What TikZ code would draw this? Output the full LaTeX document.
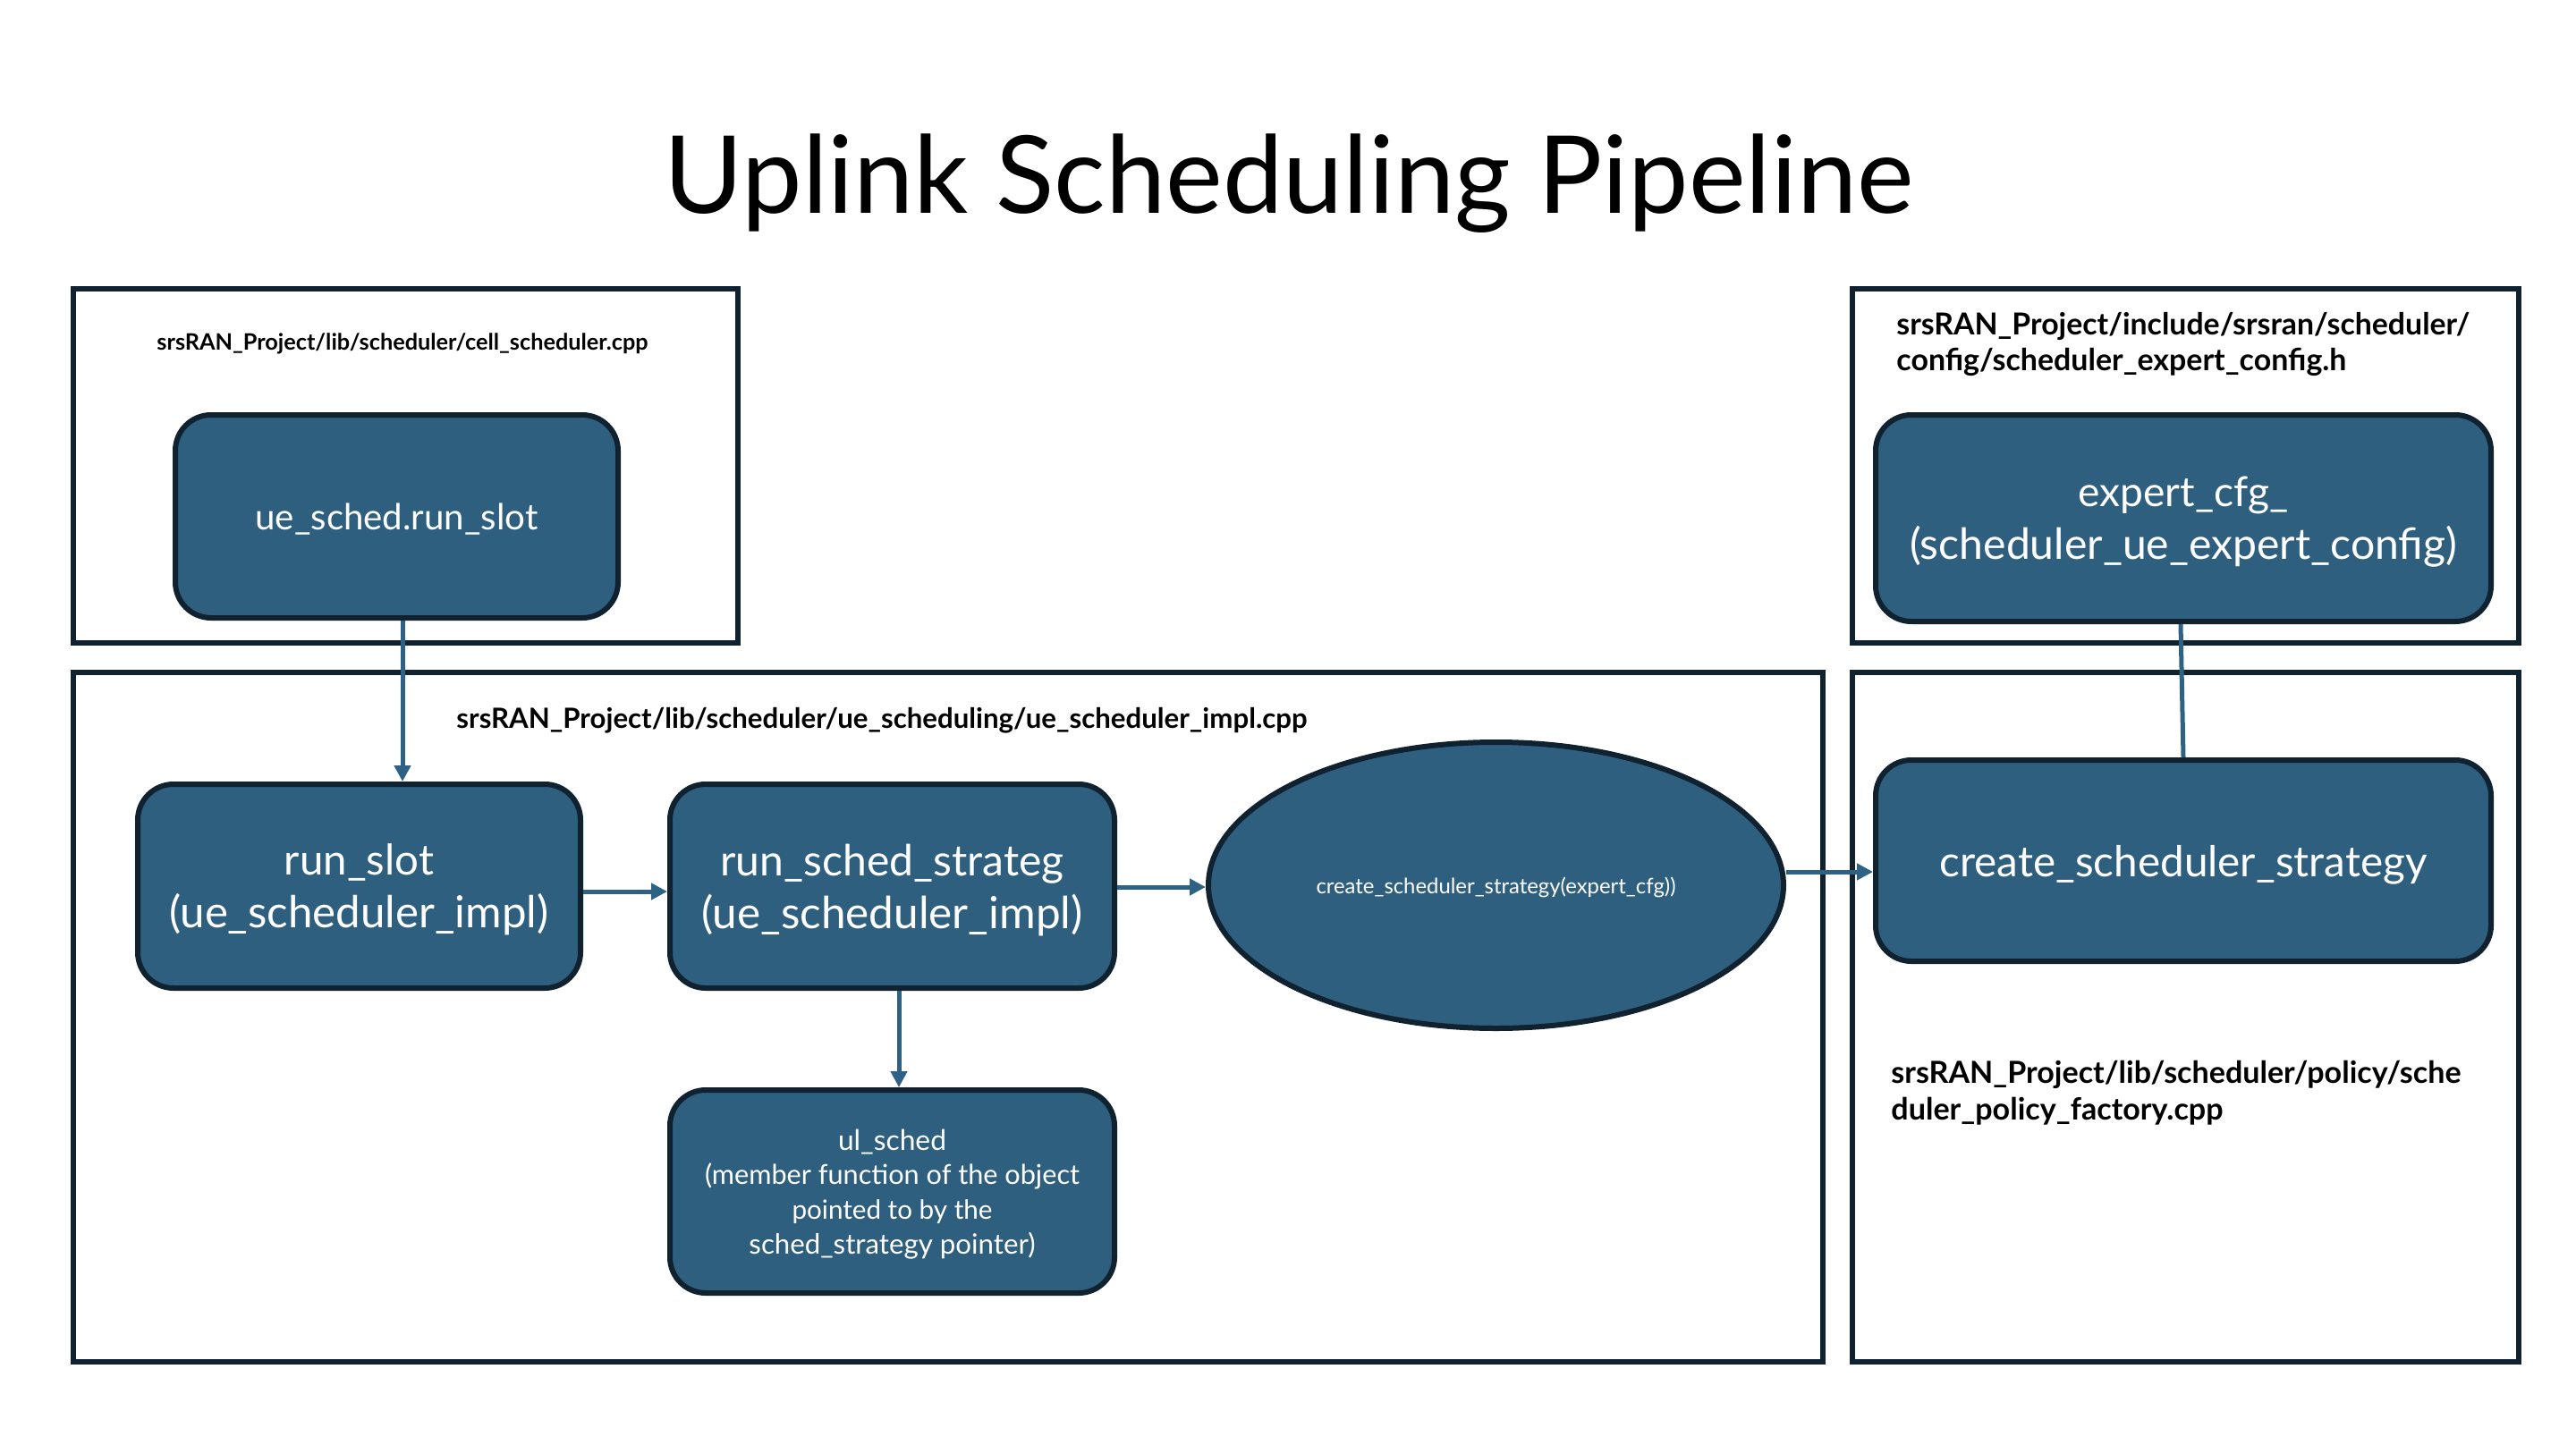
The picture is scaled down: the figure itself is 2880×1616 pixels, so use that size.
\documentclass[tikz,border=0pt]{standalone}
\usepackage{fontspec}
\setmainfont{Lato}
\usetikzlibrary{arrows.meta,shapes.geometric}
\definecolor{boxfill}{HTML}{2F5F7F}
\definecolor{boxline}{HTML}{10222F}
\definecolor{arrcol}{HTML}{2E6285}
\newcommand{\fw}[2]{\resizebox{#1pt}{!}{#2}}
\tikzset{
  container/.style={draw=boxline, line width=3pt, fill=none, inner sep=0pt},
  fnbox/.style={draw=boxline, line width=3pt, fill=boxfill, rounded corners=20pt,
    text=white, align=center, inner sep=0pt, text depth=0pt, font=\fontsize{20pt}{29.5pt}\selectfont},
  fnell/.style={draw=boxline, line width=3pt, fill=boxfill, ellipse,
    text=white, align=center, inner sep=0pt, text depth=0pt, font=\fontsize{12pt}{14pt}\selectfont},
  pathlbl/.style={inner sep=0pt, text=black, text depth=0pt, font=\bfseries\fontsize{11pt}{20pt}\selectfont},
  arr/.style={draw=arrcol, line width=2.5pt, -{Triangle[length=9pt,width=9pt]}},
  plain/.style={draw=arrcol, line width=2.5pt},
  titlelbl/.style={inner sep=0pt, text=black, font=\fontsize{60pt}{70pt}\selectfont}
}
\begin{document}
\begin{tikzpicture}[x=0.5pt,y=-0.5pt]
\useasboundingbox[fill=white] (0,0) rectangle (2880,1616);

% title
\node[titlelbl, anchor=base] (title) at (1441,238) {\fw{698.5}{Uplink Scheduling Pipeline}};

% containers
\node[container, minimum width=371.5pt, minimum height=198pt] (boxA) at (453.5,521) {};
\node[container, minimum width=978pt, minimum height=385.5pt] (boxB) at (1060,1137.5) {};
\node[container, minimum width=372.5pt, minimum height=198pt] (boxC) at (2443.5,521) {};
\node[container, minimum width=372.5pt, minimum height=385.5pt] (boxD) at (2443.5,1137.5) {};

% path labels
\node[pathlbl] (lblA) at (450,382) {\fw{274.5}{srsRAN\_Project/lib/scheduler/cell\_scheduler.cpp}};
\node[pathlbl] (lblB) at (986,803) {\fw{475.5}{srsRAN\_Project/lib/scheduler/ue\_scheduling/ue\_scheduler\_impl.cpp}};
\node[pathlbl, anchor=west, align=left] (lblC) at (2120,382)
  {\fw{320.5}{srsRAN\_Project/include/srsran/scheduler/}\\ \fw{251.5}{config/scheduler\_expert\_config.h}};
\node[pathlbl, anchor=west, align=left, font=\bfseries\fontsize{11pt}{20.5pt}\selectfont] (lblD) at (2114,1219.5)
  {\fw{318.5}{srsRAN\_Project/lib/scheduler/policy/sche}\\ \fw{185.5}{duler\_policy\_factory.cpp}};

% function nodes
\node[fnbox, minimum width=247.5pt, minimum height=113.5pt] (ue) at (443.5,577.5) {\fw{158}{ue\_sched.run\_slot}};
\node[fnbox, minimum width=247.5pt, minimum height=114pt] (runslot) at (401.5,991)
  {\fw{83.5}{run\_slot}\\ \fw{212}{(ue\_scheduler\_impl)}};
\node[fnbox, minimum width=248.5pt, minimum height=114pt] (runsched) at (997.5,991)
  {\fw{192}{run\_sched\_strateg}\\ \fw{213}{(ue\_scheduler\_impl)}};
\node[fnbox, minimum width=248.5pt, minimum height=113.5pt, font=\fontsize{14pt}{19.3pt}\selectfont] (ulsched) at (997.5,1332.5)
  {\fw{60.5}{ul\_sched}\\ \fw{209.5}{(member function of the object}\\ \fw{112}{pointed to by the}\\ \fw{160}{sched\_strategy pointer)}};
\node[fnell, minimum width=321.5pt, minimum height=160pt] (ell) at (1672.5,990)
  {\fw{201}{create\_scheduler\_strategy(expert\_cfg))}};
\node[fnbox, minimum width=344pt, minimum height=112.5pt] (create) at (2441,962.5)
  {\fw{272.5}{create\_scheduler\_strategy}};
\node[fnbox, minimum width=344pt, minimum height=115.5pt] (expert) at (2441,579.5)
  {\fw{117.5}{expert\_cfg\_}\\ \fw{306}{(scheduler\_ue\_expert\_config)}};

% connectors
\draw[arr] ([xshift=3.25pt]ue.south) -- ([xshift=3.25pt]ue.south |- runslot.north);
\draw[arr] ([yshift=-3pt]runslot.east) -- ([yshift=-3pt]runslot.east -| runsched.west);
\draw[arr] ([yshift=-0.5pt]runsched.east) -- ([yshift=-0.5pt]runsched.east -| ell.west);
\draw[arr] ([xshift=3.75pt]runsched.south) -- ([xshift=3.75pt]runsched.south |- ulsched.north);
\draw[arr] ([yshift=7.5pt]ell.east) -- ([yshift=7.5pt]ell.east -| create.west);
\draw[plain] ([xshift=-1.5pt]expert.south) -- (create.north);
\end{tikzpicture}
\end{document}
